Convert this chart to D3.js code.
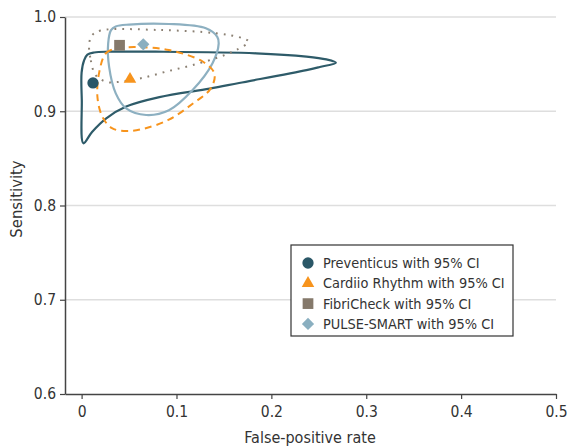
<!DOCTYPE html>
<html>
<head>
<meta charset="utf-8">
<script src="https://cdn.jsdelivr.net/npm/d3@7"></script>
<style>
  body { margin: 0; background: #fff; }
  svg text { font-family: "DejaVu Sans Condensed", "DejaVu Sans", sans-serif; font-stretch: condensed; fill: #333; }
</style>
</head>
<body>
<div id="chart"></div>
<script>
// tick values
var xTicks = [0, 0.1, 0.2, 0.3, 0.4, 0.5];
var yTicks = [0.6, 0.7, 0.8, 0.9, 1.0];

// apps (point estimates: false-positive rate, sensitivity)
var apps = ["Preventicus", "Cardiio Rhythm", "FibriCheck", "PULSE-SMART"];
var pointFpr = [0.012, 0.051, 0.040, 0.065];
var pointSens = [0.930, 0.934, 0.970, 0.971];

// 95% confidence regions, [fpr, sensitivity]
var regionPreventicus = [
    [0.0019, 0.866], [0.0002, 0.912], [0.0, 0.941], [0.0026, 0.954], [0.0061, 0.960],
    [0.0132, 0.9623], [0.029, 0.9632], [0.078, 0.9632], [0.184, 0.9615], [0.237, 0.958],
    [0.258, 0.955], [0.268, 0.9515], [0.251, 0.947], [0.237, 0.9437], [0.166, 0.930],
    [0.135, 0.924], [0.082, 0.915], [0.047, 0.905], [0.026, 0.8925], [0.011, 0.878]
];
var regionCardiio = [
    [0.0185, 0.941], [0.0256, 0.9615], [0.0375, 0.9666], [0.061, 0.968], [0.092, 0.965],
    [0.128, 0.9525], [0.140, 0.940], [0.136, 0.924], [0.117, 0.908], [0.092, 0.891],
    [0.066, 0.8816], [0.048, 0.879], [0.032, 0.882], [0.022, 0.894], [0.0167, 0.915]
];
var regionFibriCheck = [
    [0.008, 0.972], [0.0097, 0.954], [0.015, 0.938], [0.027, 0.931], [0.038, 0.931],
    [0.0625, 0.935], [0.089, 0.942], [0.117, 0.949], [0.145, 0.9575], [0.163, 0.965],
    [0.176, 0.9738], [0.170, 0.9774], [0.142, 0.9827], [0.082, 0.9862], [0.020, 0.9857],
    [0.0114, 0.981]
];
var regionPulseSmart = [
    [0.031, 0.986], [0.036, 0.990], [0.050, 0.992], [0.092, 0.9926], [0.131, 0.988],
    [0.143, 0.979], [0.1445, 0.972], [0.138, 0.951], [0.117, 0.9225], [0.092, 0.901],
    [0.068, 0.896], [0.047, 0.903], [0.036, 0.919], [0.029, 0.947], [0.028, 0.972]
];

var W = 567, H = 446;
var margin = {top: 17, right: 11, bottom: 52, left: 65};
var width = W - margin.left - margin.right;
var height = H - margin.top - margin.bottom;

var svg = d3.select("#chart").append("svg")
    .attr("width", W).attr("height", H);
var g = svg.append("g")
    .attr("transform", "translate(" + margin.left + "," + margin.top + ")");

var x = d3.scaleLinear().domain([-0.0175, 0.5]).range([0, width]);
var y = d3.scaleLinear().domain([0.6, 1.0]).range([height, 0]);

// horizontal gridlines
g.selectAll(".grid").data(yTicks.slice(1)).enter().append("line")
    .attr("class", "grid")
    .attr("x1", 0).attr("x2", width)
    .attr("y1", function(d) { return y(d); }).attr("y2", function(d) { return y(d); })
    .attr("stroke", "#dedede").attr("stroke-width", 1.5);

// axes
var xAxis = d3.axisBottom(x).tickValues(xTicks).tickSize(5).tickSizeOuter(0)
    .tickFormat(function(d) { return d === 0 ? "0" : d3.format(".1f")(d); });
var yAxis = d3.axisLeft(y).tickValues(yTicks).tickSize(5).tickSizeOuter(0)
    .tickFormat(d3.format(".1f"));

var gx = g.append("g").attr("transform", "translate(0," + height + ")").call(xAxis);
var gy = g.append("g").call(yAxis);
[gx, gy].forEach(function(a) {
    a.select(".domain").attr("stroke", "#444").attr("stroke-width", 1.5);
    a.selectAll(".tick line").attr("stroke", "#444").attr("stroke-width", 1.2);
    a.selectAll(".tick text").attr("font-size", 15.5).attr("fill", "#333")
        .style("font-family", "'DejaVu Sans Condensed', 'DejaVu Sans', sans-serif");
});
gx.selectAll(".tick text").attr("dy", null).attr("y", 22.5);
gy.selectAll(".tick text").attr("x", -9);

// axis titles
g.append("text").attr("text-anchor", "middle")
    .attr("transform", "translate(" + (310 - margin.left) + "," + (height + 49) + ")")
    .attr("font-size", 16)
    .text("False-positive rate");
g.append("text").attr("text-anchor", "middle")
    .attr("transform", "translate(" + (22 - margin.left) + "," + (199 - margin.top) + ")rotate(-90)")
    .attr("font-size", 16.5)
    .text("Sensitivity");

// confidence regions
var region = d3.line()
    .x(function(d) { return x(d[0]); })
    .y(function(d) { return y(d[1]); })
    .curve(d3.curveCatmullRomClosed.alpha(0.5));

g.append("path").datum(regionPreventicus).attr("d", region)
    .attr("fill", "none").attr("stroke", "#2e5b69").attr("stroke-width", 2.2);
g.append("path").datum(regionPulseSmart).attr("d", region)
    .attr("fill", "none").attr("stroke", "#8db0c1").attr("stroke-width", 2.2);
g.append("path").datum(regionCardiio).attr("d", region)
    .attr("fill", "none").attr("stroke", "#f7941d").attr("stroke-width", 2)
    .attr("stroke-dasharray", "7,5");
g.append("path").datum(regionFibriCheck).attr("d", region)
    .attr("fill", "none").attr("stroke", "#8b8073").attr("stroke-width", 2)
    .attr("stroke-dasharray", "1.8,6");

// markers
var colors = ["#2a5767", "#f7941d", "#85796b", "#8aafc0"];
var shapes = [
    d3.symbol().type(d3.symbolCircle).size(100),
    d3.symbol().type(d3.symbolTriangle).size(68),
    d3.symbol().type(d3.symbolSquare).size(115),
    d3.symbol().type(d3.symbolSquare).size(75)
];
var rot = [0, 0, 0, 45];

g.selectAll(".pt").data(apps).enter().append("path")
    .attr("class", "pt")
    .attr("d", function(d, i) { return shapes[i](); })
    .attr("transform", function(d, i) {
        return "translate(" + x(pointFpr[i]) + "," + y(pointSens[i]) + ")rotate(" + rot[i] + ")";
    })
    .attr("fill", function(d, i) { return colors[i]; });

// legend
var lg = svg.append("g").attr("transform", "translate(291,245)");
lg.append("rect").attr("width", 222).attr("height", 91)
    .attr("fill", "#fff").attr("stroke", "#333").attr("stroke-width", 1.2);
var items = lg.selectAll(".item").data(apps).enter().append("g")
    .attr("class", "item")
    .attr("transform", function(d, i) { return "translate(17," + (18 + i * 20.3) + ")"; });
items.append("path")
    .attr("d", function(d, i) { return shapes[i](); })
    .attr("transform", function(d, i) { return "rotate(" + rot[i] + ")"; })
    .attr("fill", function(d, i) { return colors[i]; });
items.append("text").attr("x", 15).attr("dy", "0.36em")
    .attr("font-size", 14.4)
    .text(function(d) { return d + " with 95% CI"; });
</script>
</body>
</html>
